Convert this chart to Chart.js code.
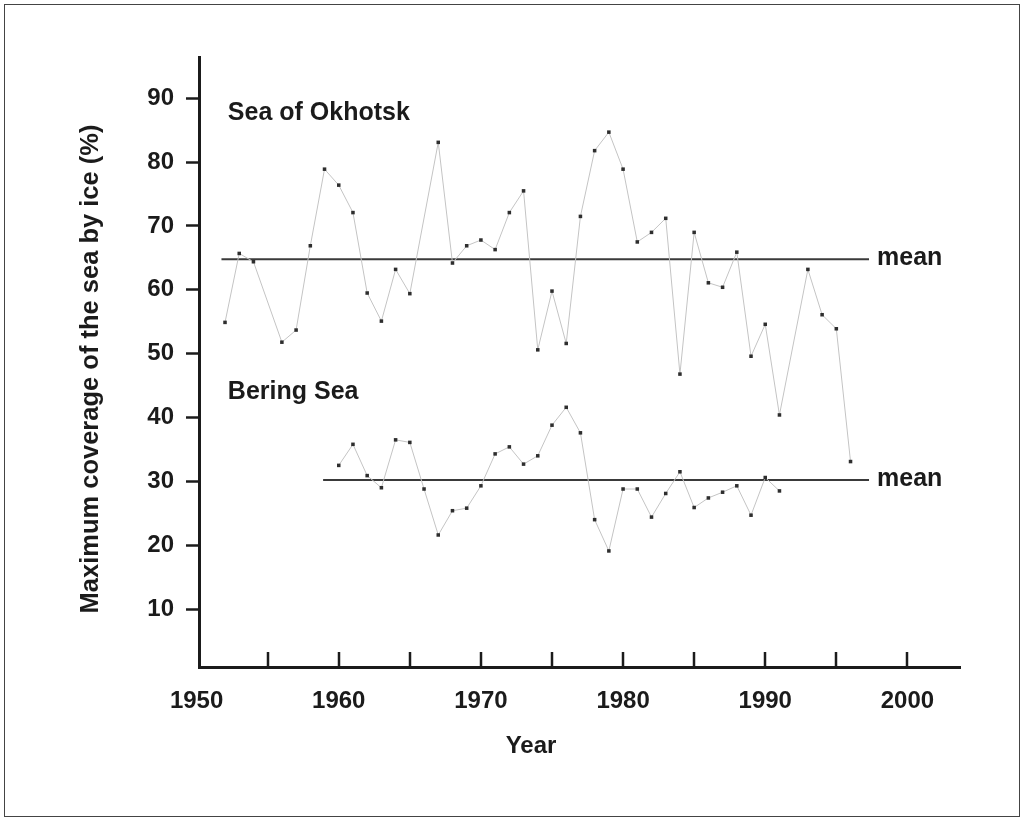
<!DOCTYPE html>
<html>
<head>
<meta charset="utf-8">
<title>Maximum ice coverage</title>
<script src="https://cdn.jsdelivr.net/npm/chart.js@4.4.1/dist/chart.umd.min.js"></script>
<style>
  html, body { margin: 0; padding: 0; background: #fff; }
  #wrap { position: relative; width: 1025px; height: 821px; }
</style>
</head>
<body>
<div id="wrap"><canvas id="iceChart" width="1025" height="821"></canvas></div>
<script>
// --- data ---
const okhotskYears = [1952, 1953, 1954, 1956, 1957, 1958, 1959, 1960, 1961, 1962, 1963, 1964, 1965,
  1967, 1968, 1969, 1970, 1971, 1972, 1973, 1974, 1975, 1976, 1977, 1978, 1979, 1980, 1981, 1982,
  1983, 1984, 1985, 1986, 1987, 1988, 1989, 1990, 1991, 1993, 1994, 1995, 1996];
const okhotskCover = [54.9, 65.7, 64.4, 51.8, 53.7, 66.9, 78.9, 76.4, 72.1, 59.5, 55.1, 63.2, 59.4,
  83.1, 64.2, 66.9, 67.8, 66.3, 72.1, 75.5, 50.6, 59.8, 51.6, 71.5, 81.8, 84.7, 78.9, 67.5, 69.0,
  71.2, 46.8, 69.0, 61.1, 60.4, 65.9, 49.6, 54.6, 40.4, 63.2, 56.1, 53.9, 33.1];

const beringYears = [1960, 1961, 1962, 1963, 1964, 1965, 1966, 1967, 1968, 1969, 1970, 1971, 1972,
  1973, 1974, 1975, 1976, 1977, 1978, 1979, 1980, 1981, 1982, 1983, 1984, 1985, 1986, 1987, 1988,
  1989, 1990, 1991];
const beringCover = [32.5, 35.8, 30.9, 29.0, 36.5, 36.1, 28.8, 21.6, 25.4, 25.8, 29.3, 34.3, 35.4,
  32.7, 34.0, 38.8, 41.6, 37.6, 24.0, 19.1, 28.8, 28.8, 24.4, 28.1, 31.5, 25.9, 27.4, 28.3, 29.3,
  24.7, 30.6, 28.5];

const okhotskMean = 64.8;
const beringMean = 30.2;
const okhotskMeanSpan = [1951.75, 1997.3];
const beringMeanSpan = [1958.9, 1997.3];

const xTickLabels = [1950, 1960, 1970, 1980, 1990, 2000];
const xTickMarks = [1955, 1960, 1965, 1970, 1975, 1980, 1985, 1990, 1995, 2000];
const yTicks = [10, 20, 30, 40, 50, 60, 70, 80, 90];

// --- look ---
const INK = '#1b1b1b';
const FONT = "'Liberation Sans', Arial, sans-serif";

const toPoints = (xs, ys) => xs.map((x, i) => ({ x: x, y: ys[i] }));

// texts placed at data positions (year, %)
const seriesLabels = [
  { text: 'Sea of Okhotsk', x: 1952.2, y: 87.7 },
  { text: 'Bering Sea', x: 1952.2, y: 44.0 }
];

const decorations = {
  id: 'decorations',
  afterDraw(chart) {
    const ctx = chart.ctx;
    const xs = chart.scales.x, ys = chart.scales.y;
    const area = chart.chartArea;
    ctx.save();

    // frame round the figure
    ctx.strokeStyle = '#444';
    ctx.lineWidth = 1;
    ctx.strokeRect(4.5, 4.5, 1015, 812);

    // x tick marks point inward
    ctx.strokeStyle = INK;
    ctx.lineWidth = 2.5;
    xTickMarks.forEach(v => {
      const px = Math.round(xs.getPixelForValue(v));
      ctx.beginPath();
      ctx.moveTo(px, area.bottom);
      ctx.lineTo(px, area.bottom - 15);
      ctx.stroke();
    });

    ctx.fillStyle = INK;
    ctx.font = 'bold 25px ' + FONT;
    ctx.textBaseline = 'middle';
    ctx.textAlign = 'left';
    seriesLabels.forEach(l => {
      ctx.fillText(l.text, xs.getPixelForValue(l.x), ys.getPixelForValue(l.y));
    });

    const meanX = xs.getPixelForValue(okhotskMeanSpan[1]) + 8;
    ctx.fillText('mean', meanX, ys.getPixelForValue(okhotskMean) - 1);
    ctx.fillText('mean', meanX, ys.getPixelForValue(beringMean) - 1);

    // axis titles
    ctx.font = 'bold 24px ' + FONT;
    ctx.textAlign = 'center';
    ctx.fillText('Year', 531, 746);

    ctx.font = 'bold 25.5px ' + FONT;
    ctx.translate(91, 369);
    ctx.rotate(-Math.PI / 2);
    ctx.fillText('Maximum coverage of the sea by ice (%)', 0, 0);
    ctx.restore();
  }
};

const chart = new Chart(document.getElementById('iceChart').getContext('2d'), {
  type: 'scatter',
  data: {
    datasets: [
      {
        label: 'Sea of Okhotsk',
        data: toPoints(okhotskYears, okhotskCover),
        showLine: true,
        borderColor: '#c4c4c4',
        borderWidth: 1,
        pointStyle: 'rect',
        pointRadius: 2.5,
        pointBackgroundColor: '#2e2e2e',
        pointBorderWidth: 0
      },
      {
        label: 'Bering Sea',
        data: toPoints(beringYears, beringCover),
        showLine: true,
        borderColor: '#c4c4c4',
        borderWidth: 1,
        pointStyle: 'rect',
        pointRadius: 2.5,
        pointBackgroundColor: '#2e2e2e',
        pointBorderWidth: 0
      },
      {
        label: 'Okhotsk mean',
        data: okhotskMeanSpan.map(x => ({ x: x, y: okhotskMean })),
        showLine: true,
        borderColor: '#3a3a3a',
        borderWidth: 2,
        pointRadius: 0
      },
      {
        label: 'Bering mean',
        data: beringMeanSpan.map(x => ({ x: x, y: beringMean })),
        showLine: true,
        borderColor: '#3a3a3a',
        borderWidth: 2,
        pointRadius: 0
      }
    ]
  },
  options: {
    responsive: false,
    devicePixelRatio: 1,
    animation: false,
    layout: { padding: { left: 0, right: 65, top: 57, bottom: 0 } },
    plugins: {
      legend: { display: false },
      tooltip: { enabled: false }
    },
    scales: {
      x: {
        type: 'linear',
        min: 1950.17,
        max: 2003.7,
        afterFit: s => { s.height = 154; },
        afterBuildTicks: s => { s.ticks = xTickLabels.map(v => ({ value: v })); },
        grid: { display: false },
        border: { display: true, color: INK, width: 3 },
        ticks: {
          autoSkip: false,
          padding: 12,
          color: INK,
          font: { family: FONT, size: 24, weight: 'bold' },
          callback: v => String(v)
        }
      },
      y: {
        min: 0.92,
        max: 96.47,
        afterFit: s => { s.width = 199; },
        afterBuildTicks: s => { s.ticks = yTicks.map(v => ({ value: v })); },
        grid: {
          drawOnChartArea: false,
          drawTicks: true,
          tickLength: 13,
          tickWidth: 2.5,
          tickColor: INK
        },
        border: { display: true, color: INK, width: 3 },
        ticks: {
          padding: 12,
          color: INK,
          font: { family: FONT, size: 24, weight: 'bold' }
        }
      }
    }
  },
  plugins: [decorations]
});
</script>
</body>
</html>
